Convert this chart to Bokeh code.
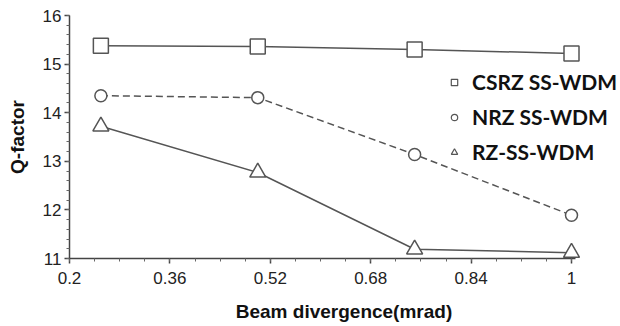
from bokeh.plotting import figure
from bokeh.models import Range1d, FixedTicker, CustomJSTickFormatter, Legend, LegendItem, ColumnDataSource
from bokeh.embed import file_html
from bokeh.resources import INLINE

beam_div = [0.25, 0.50, 0.75, 1.0]
csrz = [15.38, 15.36, 15.30, 15.22]
nrz = [14.35, 14.31, 13.14, 11.89]
rz = [13.72, 12.77, 11.19, 11.12]
x_ticks = [0.2, 0.36, 0.52, 0.68, 0.84, 1.0]
y_ticks = [11, 12, 13, 14, 15, 16]
names = ["CSRZ SS-WDM", "NRZ SS-WDM", "RZ-SS-WDM"]

GRAY = "#555555"
p = figure(width=618, height=325, output_backend="svg", toolbar_location=None,
           x_range=Range1d(0.2, 1.0749), y_range=Range1d(11, 16),
           min_border_left=69, min_border_right=0, min_border_top=15, min_border_bottom=67)
p.outline_line_color = None
p.grid.grid_line_color = None
p.background_fill_color = "white"

src = ColumnDataSource(dict(x=beam_div, c=csrz, n=nrz, r=rz))
p.line("x", "c", source=src, line_color=GRAY, line_width=1.5)
p.scatter("x", "c", source=src, marker="square", size=15, fill_color="white", line_color=GRAY, line_width=1.5)
p.line("x", "n", source=src, line_color=GRAY, line_width=1.5, line_dash="7 4")
p.scatter("x", "n", source=src, marker="circle", size=12, fill_color="white", line_color=GRAY, line_width=1.5)
p.line("x", "r", source=src, line_color=GRAY, line_width=1.5)
p.scatter("x", "r", source=src, marker="triangle", size=16, fill_color="white", line_color=GRAY, line_width=1.5)

# legend-only glyphs (no visible data)
nan_src = ColumnDataSource(dict(x=[float("nan")], y=[float("nan")]))
l1 = p.scatter("x", "y", source=nan_src, marker="square", size=11, fill_color="white", line_color=GRAY, line_width=1.2)
l2 = p.scatter("x", "y", source=nan_src, marker="circle", size=8, fill_color="white", line_color=GRAY, line_width=1.2)
l3 = p.scatter("x", "y", source=nan_src, marker="triangle", size=12, fill_color="white", line_color=GRAY, line_width=1.2)
legend = Legend(items=[LegendItem(label=names[0], renderers=[l1]),
                       LegendItem(label=names[1], renderers=[l2]),
                       LegendItem(label=names[2], renderers=[l3])],
                location=(377, 94), background_fill_alpha=0, border_line_color=None,
                label_text_font="Lato", label_text_font_style="bold", label_text_font_size="21px",
                label_text_color="#111111", glyph_width=16, glyph_height=20, label_height=20,
                spacing=10, padding=0, margin=0, label_standoff=10)
p.add_layout(legend, "center")

for ax in (p.xaxis[0], p.yaxis[0]):
    ax.axis_line_color = "#444444"
    ax.axis_line_width = 1.5
    ax.major_tick_line_color = "#444444"
    ax.major_tick_line_width = 1.5
    ax.major_tick_out = 5
    ax.major_tick_in = 0
    ax.minor_tick_line_color = "#666666"
    ax.minor_tick_out = 3
    ax.minor_tick_in = 0
    ax.major_label_text_font = "Liberation Sans"
    ax.major_label_text_font_size = "17px"
    ax.major_label_text_color = "#222222"
    ax.axis_label_text_font = "Liberation Sans"
    ax.axis_label_text_font_style = "bold"
    ax.axis_label_text_font_size = "19px"
    ax.axis_label_text_color = "#111111"

p.xaxis.bounds = (0.2, 1.006)
p.xaxis.ticker = FixedTicker(ticks=x_ticks, minor_ticks=[0.2 + 0.04 * i for i in range(21)])
p.yaxis.ticker = FixedTicker(ticks=y_ticks, minor_ticks=[11 + 0.2 * i for i in range(26)])
p.xaxis.formatter = CustomJSTickFormatter(code="return String(Number(tick.toFixed(2)));")
p.xaxis.axis_label = "Beam divergence(mrad)"
p.yaxis.axis_label = "Q-factor"
p.xaxis.major_label_standoff = 8
p.xaxis.axis_label_standoff = 14
p.yaxis.major_label_standoff = 3
p.yaxis.axis_label_standoff = 12

open("out.html", "w").write(file_html(p, INLINE))
